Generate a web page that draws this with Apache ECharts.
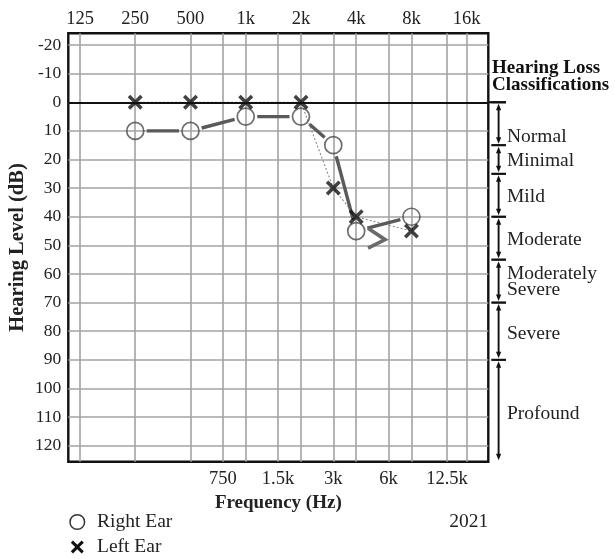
<!DOCTYPE html>
<html>
<head>
<meta charset="utf-8">
<script src="https://cdn.jsdelivr.net/npm/echarts@6/dist/echarts.min.js"></script>
<style>
  html, body { margin: 0; padding: 0; background: #fff; }
  #chart { width: 615px; height: 559px; }
</style>
</head>
<body>
<div id="chart"></div>
<script>
// Test frequencies (Hz) and thresholds (dB HL)
const FREQ = [250, 500, 1000, 2000, 3000, 4000, 8000];
const RIGHT_EAR = [10, 10, 5, 5, 15, 45, 40];
const LEFT_EAR = [0, 0, 0, 0, 30, 40, 45];

// Extra ">" stroke drawn beside the 4 kHz right-ear point
const CHEVRON_FREQ = [4640, 5750, 4640];
const CHEVRON_DB = [44, 48, 51];

// Axis labels
const TOP_FREQS = [125, 250, 500, 1000, 2000, 4000, 8000, 16000];
const TOP_LABELS = ['125', '250', '500', '1k', '2k', '4k', '8k', '16k'];
const BOTTOM_FREQS = [750, 1500, 3000, 6000, 12500];
const BOTTOM_LABELS = ['750', '1.5k', '3k', '6k', '12.5k'];
const GRID_FREQS = [125, 250, 500, 750, 1000, 1500, 2000, 3000, 4000, 6000, 8000, 12500, 16000];
const DB_TICKS = [-20, -10, 0, 10, 20, 30, 40, 50, 60, 70, 80, 90, 100, 110, 120];

// Hearing loss classification bands (dB HL)
const CLASS_NAMES = ['Normal', 'Minimal', 'Mild', 'Moderate', 'Moderately\nSevere', 'Severe', 'Profound'];
const CLASS_BOUNDS = [0, 15, 25, 40, 55, 70, 90, 125.6];

const FONT = 'Liberation Serif';
const oct = f => Math.log2(f / 125);          // octaves above 125 Hz
const X_MIN = -0.2118, X_MAX = 7.391;
const Y_MIN = -24.1, Y_MAX = 125.6;

function labelFor(values, labels) {
  return v => {
    let best = 0, d = Infinity;
    values.forEach((f, i) => { const e = Math.abs(oct(f) - v); if (e < d) { d = e; best = i; } });
    return d < 0.01 ? labels[best] : '';
  };
}

const rightSegments = [];
for (let i = 0; i < FREQ.length - 1; i++) {
  rightSegments.push([oct(FREQ[i]), RIGHT_EAR[i], oct(FREQ[i + 1]), RIGHT_EAR[i + 1]]);
}

// X glyph outline on a 12x12 box
const X_PTS = [[0,2],[2,0],[6,4],[10,0],[12,2],[8,6],[12,10],[10,12],[6,8],[2,12],[0,10],[4,6]];
const xShape = 'path://M' + X_PTS.map(p => p.join(',')).join('L') + 'Z';

const chart = echarts.init(document.getElementById('chart'), null, { renderer: 'canvas' });

chart.setOption({
  backgroundColor: '#fff',
  animation: false,
  textStyle: { fontFamily: FONT },
  grid: {
    left: 68.3, right: 126.7, top: 33.3, bottom: 97.3,
    outerBoundsMode: 'none', containLabel: false,
    show: true, borderColor: '#111', borderWidth: 2.4, backgroundColor: 'transparent'
  },
  xAxis: [
    {
      type: 'value', position: 'bottom', min: X_MIN, max: X_MAX,
      axisLine: { show: false },
      axisTick: { show: false, customValues: GRID_FREQS.map(oct) },
      splitLine: { show: true, lineStyle: { color: '#a3a3a3', width: 1.6 } },
      axisLabel: {
        customValues: BOTTOM_FREQS.map(oct), formatter: labelFor(BOTTOM_FREQS, BOTTOM_LABELS),
        fontFamily: FONT, fontSize: 18.5, color: '#222', margin: 8
      },
      name: 'Frequency (Hz)', nameLocation: 'middle', nameGap: 25,
      nameTextStyle: { fontFamily: FONT, fontSize: 19, fontWeight: 'bold', color: '#222' }
    },
    {
      type: 'value', position: 'top', min: X_MIN, max: X_MAX,
      axisLine: { show: false }, axisTick: { show: false }, splitLine: { show: false },
      axisLabel: {
        customValues: TOP_FREQS.map(oct), formatter: labelFor(TOP_FREQS, TOP_LABELS),
        fontFamily: FONT, fontSize: 18.5, color: '#222', margin: 5
      }
    }
  ],
  yAxis: {
    type: 'value', inverse: true, min: Y_MIN, max: Y_MAX,
    axisLine: { show: false },
    axisTick: { show: false, customValues: DB_TICKS },
    splitLine: { show: true, lineStyle: { color: '#a3a3a3', width: 1.6 } },
    axisLabel: { customValues: DB_TICKS, fontFamily: FONT, fontSize: 17.5, color: '#222', margin: 7 },
    name: 'Hearing Level (dB)', nameLocation: 'middle', nameGap: 40, nameMoveOverlap: false,
    nameTextStyle: { fontFamily: FONT, fontSize: 20.5, fontWeight: 'bold', color: '#222' }
  },
  series: [
    {
      // left ear connecting line (thin, dotted)
      type: 'line', name: 'Left Ear line', z: 2, silent: true,
      data: FREQ.map((f, i) => [oct(f), LEFT_EAR[i]]),
      showSymbol: false,
      lineStyle: { color: '#8a8a8a', width: 1.1, type: [2, 2] },
      markLine: {
        silent: true, symbol: 'none', label: { show: false },
        lineStyle: { color: '#111', width: 2.2, type: 'solid' },
        data: [{ yAxis: 0 }]
      }
    },
    {
      // right ear connecting line, broken at each marker
      type: 'custom', name: 'Right Ear line', z: 3, silent: true,
      data: rightSegments,
      encode: { x: [0, 2], y: [1, 3] },
      renderItem: function (params, api) {
        const a = api.coord([api.value(0), api.value(1)]);
        const b = api.coord([api.value(2), api.value(3)]);
        const dx = b[0] - a[0], dy = b[1] - a[1];
        const len = Math.sqrt(dx * dx + dy * dy);
        const g = 11.5;
        const ux = dx / len, uy = dy / len;
        return {
          type: 'line',
          shape: { x1: a[0] + ux * g, y1: a[1] + uy * g, x2: b[0] - ux * g, y2: b[1] - uy * g },
          style: { stroke: '#5a5a5a', lineWidth: 3.4, lineCap: 'butt' }
        };
      }
    },
    {
      type: 'line', name: 'chevron', z: 3, silent: true,
      data: CHEVRON_FREQ.map((f, i) => [oct(f), CHEVRON_DB[i]]),
      showSymbol: false,
      lineStyle: { color: '#6a6a6a', width: 3.6, join: 'miter' }
    },
    {
      type: 'scatter', name: 'Right Ear', z: 4, silent: true,
      data: FREQ.map((f, i) => [oct(f), RIGHT_EAR[i]]),
      symbol: 'circle', symbolSize: 17,
      itemStyle: { color: 'rgba(0,0,0,0)', borderColor: '#4a4a4a', borderWidth: 1.7 }
    },
    {
      type: 'scatter', name: 'Left Ear', z: 5, silent: true,
      data: FREQ.map((f, i) => [oct(f), LEFT_EAR[i]]),
      symbol: xShape, symbolSize: 15,
      itemStyle: { color: '#111' }
    }
  ]
});

// Classification brackets and legend, positioned through the chart's own scales
function buildGraphics() {
  const yOf = v => chart.convertToPixel({ yAxisIndex: 0 }, v);
  const xRight = chart.convertToPixel({ xAxisIndex: 0 }, X_MAX);
  const xLeft = chart.convertToPixel({ xAxisIndex: 0 }, X_MIN);
  const bx = 498.6;
  const els = [];
  const stroke = { stroke: '#111', lineWidth: 1.9 };

  // zero line extension out to the first bracket tick
  els.push({ type: 'line', shape: { x1: xRight, y1: yOf(0), x2: 506, y2: yOf(0) }, style: { stroke: '#111', lineWidth: 2.2 } });

  for (let i = 0; i < CLASS_NAMES.length; i++) {
    const yt = yOf(CLASS_BOUNDS[i]);
    const yb = yOf(CLASS_BOUNDS[i + 1]);
    const last = i === CLASS_NAMES.length - 1;
    const top = yt + 1.5, bot = yb - 1.5;
    els.push({ type: 'line', shape: { x1: bx, y1: top + 4, x2: bx, y2: bot - 4 }, style: stroke });
    els.push({ type: 'polygon', shape: { points: [[bx, top], [bx - 2.6, top + 6.5], [bx + 2.6, top + 6.5]] }, style: { fill: '#111' } });
    els.push({ type: 'polygon', shape: { points: [[bx, bot], [bx - 2.6, bot - 6.5], [bx + 2.6, bot - 6.5]] }, style: { fill: '#111' } });
    els.push({ type: 'line', shape: { x1: 491.5, y1: yt, x2: 506, y2: yt }, style: stroke });
    if (!last) els.push({ type: 'line', shape: { x1: 491.5, y1: yb, x2: 506, y2: yb }, style: stroke });
  }

  const labelDb = [12.2, 20.4, 33.2, 48, 62.8, 80.8, 109];
  CLASS_NAMES.forEach((n, i) => {
    els.push({
      type: 'text', x: 507, y: yOf(labelDb[i]),
      style: { text: n, fontFamily: FONT, fontSize: 19.5, fill: '#222', verticalAlign: 'middle', lineHeight: 16 }
    });
  });

  els.push({
    type: 'text', x: 492, y: 77,
    style: { text: 'Hearing Loss\nClassifications', fontFamily: FONT, fontSize: 19, fontWeight: 'bold', fill: '#111', verticalAlign: 'middle', lineHeight: 17 }
  });

  // legend
  const lx = xLeft + 9;
  els.push({ type: 'circle', shape: { cx: lx, cy: 522, r: 7.3 }, style: { fill: 'none', stroke: '#333', lineWidth: 1.5 } });
  els.push({ type: 'text', x: 97, y: 522, style: { text: 'Right Ear', fontFamily: FONT, fontSize: 19.5, fill: '#222', verticalAlign: 'middle' } });
  els.push({
    type: 'polygon',
    shape: { points: X_PTS.map(p => [lx - 6.5 + p[0] * 13 / 12, 540.5 + p[1] * 13 / 12]) },
    style: { fill: '#111' }
  });
  els.push({ type: 'text', x: 97, y: 547, style: { text: 'Left Ear', fontFamily: FONT, fontSize: 19.5, fill: '#222', verticalAlign: 'middle' } });
  els.push({ type: 'text', x: xRight, y: 522, style: { text: '2021', fontFamily: FONT, fontSize: 19.5, fill: '#222', align: 'right', verticalAlign: 'middle' } });

  chart.setOption({ graphic: { elements: els } });
}
buildGraphics();
</script>
</body>
</html>
